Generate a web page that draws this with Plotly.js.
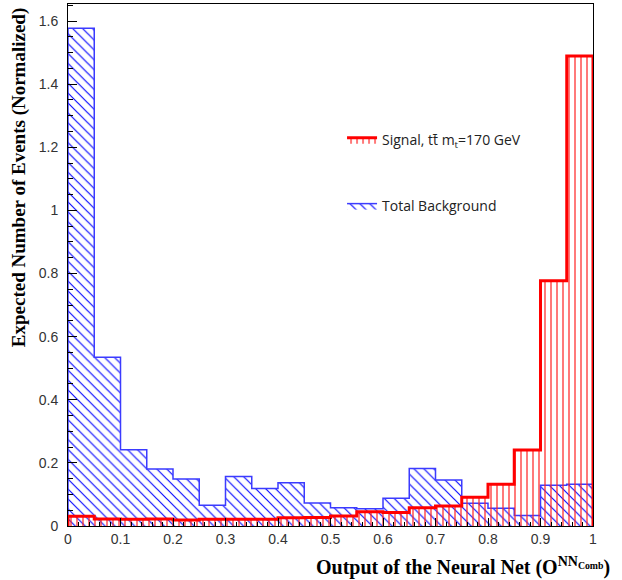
<!DOCTYPE html>
<html>
<head>
<meta charset="utf-8">
<script src="https://cdn.plot.ly/plotly-3.0.1.min.js"></script>
<style>html,body{margin:0;padding:0;background:#fff;}#chart{width:622px;height:580px;}</style>
</head>
<body>
<div id="chart"></div>
<script>
// Bin lower edges of the neural-net output histogram
var binLow = [0.00, 0.05, 0.10, 0.15, 0.20, 0.25, 0.30, 0.35, 0.40, 0.45,
              0.50, 0.55, 0.60, 0.65, 0.70, 0.75, 0.80, 0.85, 0.90, 0.95];
var binHighEdge = 1.0;

// Total background (normalized)
var background = [1.577, 0.535, 0.242, 0.181, 0.149, 0.066, 0.157, 0.119, 0.137, 0.073,
                  0.058, 0.055, 0.088, 0.182, 0.146, 0.072, 0.056, 0.033, 0.129, 0.132];

// Signal, ttbar mt=170 GeV (normalized)
var signal = [0.031, 0.022, 0.021, 0.022, 0.019, 0.021, 0.021, 0.021, 0.026, 0.027,
              0.032, 0.045, 0.043, 0.058, 0.063, 0.091, 0.132, 0.241, 0.777, 1.489];

var xTickVals = [0, 0.1, 0.2, 0.3, 0.4, 0.5, 0.6, 0.7, 0.8, 0.9, 1];
var yTickVals = [0, 0.2, 0.4, 0.6, 0.8, 1, 1.2, 1.4, 1.6];

function stepX(lows, hi) { return [lows[0]].concat(lows, [hi, hi]); }
function stepY(vals) { return [0].concat(vals, [vals[vals.length - 1], 0]); }

var bgTrace = {
  type: 'scatter', mode: 'lines',
  x: stepX(binLow, binHighEdge), y: stepY(background),
  line: {shape: 'hv', color: '#3b3bff', width: 1.5},
  fill: 'tozeroy', fillcolor: 'rgba(0,0,0,0)',
  fillpattern: {shape: '\\', fgcolor: '#0a0aff', bgcolor: 'rgba(0,0,0,0)', size: 7, solidity: 0.17},
  name: 'Total Background', legend: 'legend2', hoverinfo: 'skip'
};
var sigTrace = {
  type: 'scatter', mode: 'lines',
  x: stepX(binLow, binHighEdge), y: stepY(signal),
  line: {shape: 'hv', color: '#ff0000', width: 3},
  fill: 'tozeroy', fillcolor: 'rgba(0,0,0,0)',
  fillpattern: {shape: '|', fgcolor: '#ff2020', bgcolor: 'rgba(0,0,0,0)', size: 6, solidity: 0.2},
  name: 'Signal, tt\u0304 m<sub>t</sub>=170 GeV', legend: 'legend', hoverinfo: 'skip'
};

var tickFont = {family: 'Liberation Sans, Arial, sans-serif', size: 14, color: '#333'};
var legFont = {family: 'Open Sans, Noto Sans, sans-serif', size: 14, color: '#222'};

var layout = {
  width: 622, height: 580,
  margin: {l: 68, r: 29, t: 4, b: 54},
  paper_bgcolor: '#fff', plot_bgcolor: '#fff',
  showlegend: true,
  legend: {x: 0.522, y: 0.739, xanchor: 'left', yanchor: 'middle', bgcolor: 'rgba(0,0,0,0)',
           borderwidth: 0, font: legFont},
  legend2: {x: 0.522, y: 0.613, xanchor: 'left', yanchor: 'middle', bgcolor: 'rgba(0,0,0,0)',
            borderwidth: 0, font: legFont},
  xaxis: {
    range: [0, 1], tickvals: xTickVals, ticks: 'inside', ticklen: 8, tickcolor: '#000',
    showline: true, linecolor: '#000', linewidth: 1, mirror: true, showgrid: false, zeroline: false,
    tickfont: tickFont,
    minor: {ticks: 'inside', dtick: 0.02, ticklen: 4, tickcolor: '#000', showgrid: false}
  },
  yaxis: {
    range: [0, 1.654], tickvals: yTickVals, ticks: 'inside', ticklen: 9, tickcolor: '#000',
    showline: true, linecolor: '#000', linewidth: 1, mirror: true, showgrid: false, zeroline: false,
    tickfont: tickFont, ticklabelstandoff: 6,
    minor: {ticks: 'inside', dtick: 0.05, ticklen: 5, tickcolor: '#000', showgrid: false}
  },
  annotations: [
    {text: 'Expected Number of Events (Normalized)', textangle: -90, xref: 'paper', yref: 'paper',
     x: -0.093, y: 0.998, xanchor: 'center', yanchor: 'top', showarrow: false,
     font: {family: 'Liberation Serif, Times New Roman, serif', size: 19, color: '#000', weight: 'bold'}},
    {text: 'Output of the Neural Net (O<sup>NN<sub>Comb</sub></sup>)', xref: 'paper', yref: 'paper',
     x: 1.036, y: -0.077, xanchor: 'right', yanchor: 'middle', showarrow: false,
     font: {family: 'Liberation Serif, Times New Roman, serif', size: 20, color: '#000', weight: 'bold'}}
  ]
};

Plotly.newPlot('chart', [bgTrace, sigTrace], layout, {displayModeBar: false, staticPlot: true});
</script>
</body>
</html>
